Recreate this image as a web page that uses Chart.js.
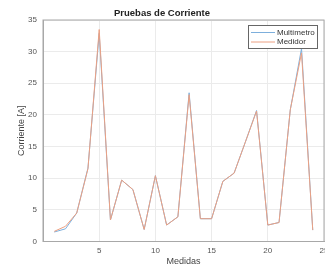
<!DOCTYPE html>
<html>
<head>
<meta charset="utf-8">
<script src="https://cdn.jsdelivr.net/npm/chart.js@4"></script>
<style>
  html, body { margin: 0; padding: 0; background: #fff; }
  #wrap { width: 325px; height: 264px; }
</style>
</head>
<body>
<div id="wrap"><canvas id="chart" width="325" height="264"></canvas></div>
<script>
const medidas = [1, 2, 3, 4, 5, 6, 7, 8, 9, 10, 11, 12, 13, 14, 15, 16, 17, 18, 19, 20, 21, 22, 23, 24];
const multimetro = [1.5, 2.0, 4.5, 11.6, 32.9, 3.4, 9.7, 8.2, 1.9, 10.4, 2.6, 3.9, 23.5, 3.6, 3.6, 9.5, 10.8, 15.7, 20.7, 2.6, 3.0, 20.8, 30.5, 1.8];
const medidor = [1.6, 2.4, 4.5, 11.5, 33.5, 3.4, 9.7, 8.2, 1.9, 10.4, 2.6, 3.9, 23.2, 3.6, 3.6, 9.5, 10.8, 15.7, 20.6, 2.6, 3.0, 20.8, 29.8, 1.8];
const xTicks = [5, 10, 15, 20, 25];
const yTicks = [0, 5, 10, 15, 20, 25, 30, 35];

const FONT = '"Liberation Sans", Arial, sans-serif';
const toPoints = (vals) => vals.map((v, i) => ({ x: medidas[i], y: v }));

// caja del gráfico + leyenda dentro del área (estilo matlab)
const boxAndLegend = {
    id: 'boxAndLegend',
    afterDraw(chart) {
        const { ctx, chartArea: a } = chart;
        ctx.save();
        ctx.strokeStyle = '#a8a8a8';
        ctx.lineWidth = 1;
        ctx.strokeRect(a.left, a.top, a.right - a.left, a.bottom - a.top);

        const lx = 248, ly = 25, lw = 69, lh = 23;
        ctx.fillStyle = '#fff';
        ctx.fillRect(lx, ly, lw, lh);
        ctx.strokeStyle = '#666';
        ctx.strokeRect(lx + 0.5, ly + 0.5, lw, lh);
        ctx.font = '8px ' + FONT;
        ctx.textBaseline = 'middle';
        chart.data.datasets.forEach((ds, i) => {
            const y = ly + 7.5 + i * 9.5;
            ctx.strokeStyle = ds.borderColor;
            ctx.lineWidth = 1;
            ctx.beginPath();
            ctx.moveTo(lx + 3, y);
            ctx.lineTo(lx + 27, y);
            ctx.stroke();
            ctx.fillStyle = '#333';
            ctx.fillText(ds.label, lx + 29, y);
        });
        ctx.restore();
    }
};

const config = {
    type: 'line',
    data: {
        datasets: [
            {
                label: 'Multímetro',
                data: toPoints(multimetro),
                borderColor: 'rgb(125, 175, 220)',
                borderWidth: 1,
                pointRadius: 0,
                tension: 0,
                order: 1
            },
            {
                label: 'Medidor',
                data: toPoints(medidor),
                borderColor: 'rgb(236, 160, 130)',
                borderWidth: 1,
                pointRadius: 0,
                tension: 0,
                order: 0
            }
        ]
    },
    options: {
        animation: false,
        responsive: false,
        layout: { autoPadding: false, padding: { left: 0, right: 1, top: 0, bottom: 0 } },
        plugins: {
            legend: { display: false },
            tooltip: { enabled: false },
            title: {
                display: true,
                text: 'Pruebas de Corriente',
                color: '#222',
                font: { size: 9.5, weight: 'bold', family: FONT },
                padding: { top: 7.3, bottom: 1.3 }
            }
        },
        scales: {
            x: {
                type: 'linear',
                min: 0,
                max: 25,
                afterBuildTicks: (scale) => { scale.ticks = xTicks.map(v => ({ value: v })); },
                afterFit: (scale) => {
                    scale.height = 22.5;
                    scale.paddingLeft = 0;
                    scale.paddingRight = 0;
                },
                grid: { color: '#ebebeb', drawTicks: false },
                border: { color: '#a8a8a8' },
                ticks: {
                    color: '#555',
                    padding: 4,
                    maxRotation: 0,
                    font: { size: 8, family: FONT }
                },
                title: {
                    display: true,
                    text: 'Medidas',
                    color: '#444',
                    padding: { top: 0, bottom: -3 },
                    font: { size: 9, family: FONT }
                }
            },
            y: {
                min: 0,
                max: 35,
                afterBuildTicks: (scale) => { scale.ticks = yTicks.map(v => ({ value: v })); },
                afterFit: (scale) => {
                    scale.width = 43;
                    scale.paddingTop = 0;
                    scale.paddingBottom = 0;
                },
                grid: { color: '#ebebeb', drawTicks: false },
                border: { color: '#a8a8a8' },
                ticks: {
                    color: '#555',
                    padding: 6,
                    font: { size: 8, family: FONT }
                },
                title: {
                    display: true,
                    text: 'Corriente [A]',
                    color: '#444',
                    padding: { top: 16, bottom: 0 },
                    font: { size: 9, family: FONT }
                }
            }
        }
    },
    plugins: [boxAndLegend]
};

new Chart(document.getElementById('chart'), config);
</script>
</body>
</html>
